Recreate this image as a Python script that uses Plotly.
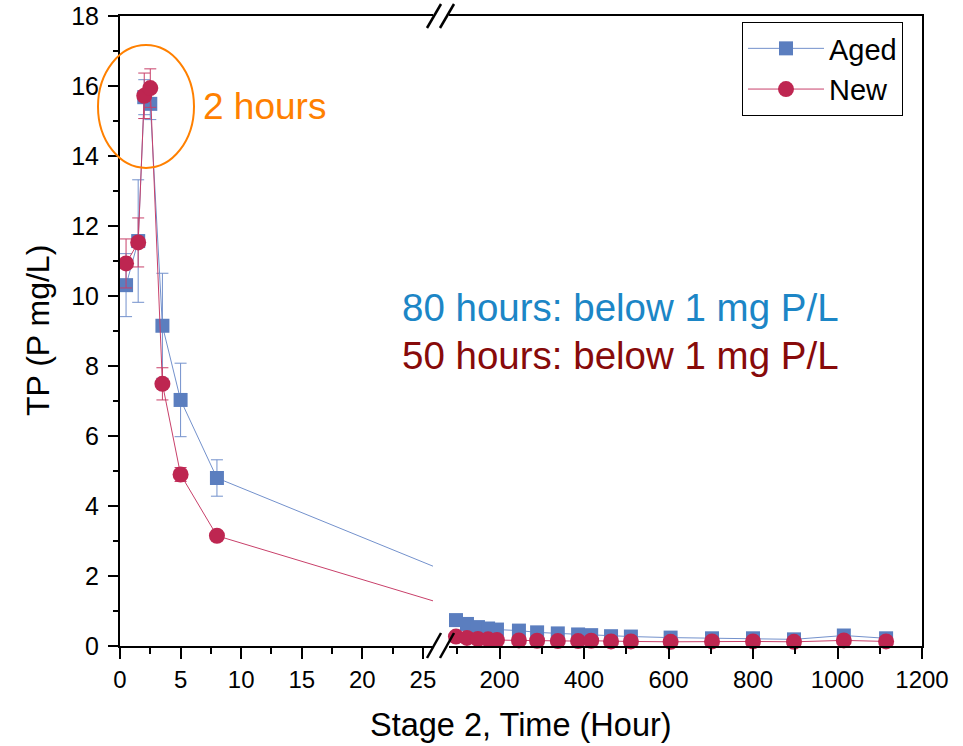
import plotly.graph_objects as go

# ---------------- data ----------------
left_x = [0.5, 1.5, 2, 2.5, 3.5, 5, 8]
aged_left = [10.31, 11.57, 15.68, 15.49, 9.15, 7.03, 4.80]
aged_left_err = [0.90, 1.75, 0.50, 0.45, 1.50, 1.05, 0.52]
new_left = [10.93, 11.53, 15.72, 15.94, 7.49, 4.90, 3.15]
new_left_err = [0.70, 0.70, 0.65, 0.55, 0.46, 0.20, 0.10]

# values where the connecting lines meet the axis break
break_x = 25.83
aged_break = 2.28
new_break = 1.29

right_x = [97, 123, 149, 173, 194, 246, 289, 338, 386, 417, 464, 511, 605, 703, 800, 897, 1015, 1115]
aged_right = [0.74, 0.63, 0.54, 0.50, 0.47, 0.44, 0.39, 0.36, 0.33, 0.31, 0.28, 0.27, 0.24, 0.22, 0.22, 0.19, 0.30, 0.22]
aged_right_err = [0.05, 0.05, 0.04, 0.04, 0.04, 0.04, 0.04, 0.04, 0.04, 0.05, 0.04, 0.04, 0.04, 0.04, 0.04, 0.04, 0.05, 0.04]
new_right = [0.27, 0.23, 0.20, 0.19, 0.17, 0.16, 0.15, 0.14, 0.14, 0.15, 0.13, 0.13, 0.12, 0.13, 0.13, 0.12, 0.16, 0.13]
new_right_err = [0.05, 0.04, 0.04, 0.04, 0.04, 0.04, 0.04, 0.04, 0.05, 0.05, 0.05, 0.05, 0.04, 0.04, 0.04, 0.04, 0.05, 0.05]

left_range = [0, 25.83]
right_range = [80, 1200]
y_range = [0, 18]

# ---------------- styles ----------------
FONT = "Liberation Sans, Arial, sans-serif"
AGED_MARK = "#5B7EBF"
AGED_LINE = "#7391CC"
NEW_MARK = "#BE2651"
NEW_LINE = "#C8406A"

fig = go.Figure()

series = [
    ("Aged", aged_left, aged_left_err, aged_break, aged_right, aged_right_err,
     AGED_MARK, AGED_LINE, "square", 14),
    ("New", new_left, new_left_err, new_break, new_right, new_right_err,
     NEW_MARK, NEW_LINE, "circle", 16),
]

for name, yl, el, yb, yr, er, mc, lc, sym, ms in series:
    # left segment connecting line (runs to the break)
    fig.add_trace(go.Scatter(
        x=left_x + [break_x], y=yl + [yb], mode="lines",
        line=dict(color=lc, width=1), showlegend=False, hoverinfo="skip",
        xaxis="x", yaxis="y"))
    # left segment markers with error bars
    fig.add_trace(go.Scatter(
        x=left_x, y=yl, mode="markers", name=name, showlegend=False,
        marker=dict(symbol=sym, size=ms, color=mc),
        error_y=dict(type="data", array=el, color=lc, thickness=1, width=6),
        xaxis="x", yaxis="y"))
    # right segment
    fig.add_trace(go.Scatter(
        x=right_x, y=yr, mode="lines+markers", name=name, showlegend=True,
        line=dict(color=lc, width=1),
        marker=dict(symbol=sym, size=ms, color=mc),
        error_y=dict(type="data", array=er, color=lc, thickness=1, width=6),
        cliponaxis=False,
        xaxis="x2", yaxis="y2"))

L, R, T, B = 120, 41, 16, 100
W, H = 963, 746
pw = W - L - R
ph = H - T - B

def px(x):
    return (x - L) / pw

def py(y):
    return (H - B - y) / ph

d1 = px(433)
d2 = px(448.8)

axis_common = dict(
    showline=True, linewidth=2, linecolor="black", mirror=True,
    ticks="outside", ticklen=11, tickwidth=2, tickcolor="black",
    showgrid=False, zeroline=False, automargin=False,
    tickfont=dict(family=FONT, size=24, color="black"),
)

fig.update_layout(
    width=W, height=H,
    margin=dict(l=L, r=R, t=T, b=B, autoexpand=False),
    paper_bgcolor="white", plot_bgcolor="white",
    xaxis=dict(domain=[0, d1], range=left_range, tick0=0, dtick=5,
               minor=dict(dtick=2.5, ticklen=6, tickwidth=2, tickcolor="black", ticks="outside"),
               anchor="y", **axis_common),
    xaxis2=dict(domain=[d2, 1], range=right_range, tick0=0, dtick=200,
                minor=dict(dtick=100, ticklen=6, tickwidth=2, tickcolor="black", ticks="outside"),
                anchor="y2", **axis_common),
    yaxis=dict(domain=[0, 1], range=y_range, tick0=0, dtick=2, anchor="x",
               showline=True, linewidth=2, linecolor="black", mirror=False,
               ticks="outside", ticklen=10, tickwidth=2, tickcolor="black",
               minor=dict(dtick=1, ticklen=5, tickwidth=2, tickcolor="black", ticks="outside"),
               showgrid=False, zeroline=False, automargin=False,
               ticklabelstandoff=4,
               tickfont=dict(family=FONT, size=25, color="black")),
    yaxis2=dict(domain=[0, 1], matches="y", anchor="x2", side="right",
                showline=True, linewidth=2, linecolor="black", automargin=False,
                ticks="", showticklabels=False, showgrid=False, zeroline=False),
    legend=dict(x=px(742), y=py(22), xanchor="left", yanchor="top",
                bordercolor="black", borderwidth=1, bgcolor="white",
                font=dict(family=FONT, size=29, color="black"),
                itemwidth=76, tracegroupgap=0),
    showlegend=True,
)

# break marks
shapes = []
for ytop, ybot in [(4, 28), (633, 658)]:
    for x0 in (427, 440):
        shapes.append(dict(type="line", xref="paper", yref="paper",
                           x0=px(x0), y0=py(ybot), x1=px(x0 + 14), y1=py(ytop),
                           line=dict(color="black", width=2.5)))
# orange ellipse around the 2-hour peak
shapes.append(dict(type="circle", xref="paper", yref="paper",
                   x0=px(98), x1=px(194), y0=py(168), y1=py(45),
                   line=dict(color="#FF8000", width=2)))
fig.update_layout(shapes=shapes)

annotations = [
    dict(text="2 hours", x=px(201), y=py(106), xanchor="left", yanchor="middle",
         font=dict(family=FONT, size=37, color="#FF8000")),
    dict(text="80 hours: below 1 mg P/L", x=px(400), y=py(307), xanchor="left", yanchor="middle",
         font=dict(family=FONT, size=38.5, color="#1C86C6")),
    dict(text="50 hours: below 1 mg P/L", x=px(400), y=py(355), xanchor="left", yanchor="middle",
         font=dict(family=FONT, size=38.5, color="#870A0A")),
    dict(text="Stage 2, Time (Hour)", x=0.5, y=py(725), xanchor="center", yanchor="middle",
         font=dict(family=FONT, size=32.5, color="black")),
    dict(text="TP (P mg/L)", x=px(38), y=py(331), xanchor="center", yanchor="middle",
         textangle=-90, font=dict(family=FONT, size=32, color="black")),
]
for a in annotations:
    a.update(xref="paper", yref="paper", showarrow=False)
fig.update_layout(annotations=annotations)

fig.write_html("out.html")
